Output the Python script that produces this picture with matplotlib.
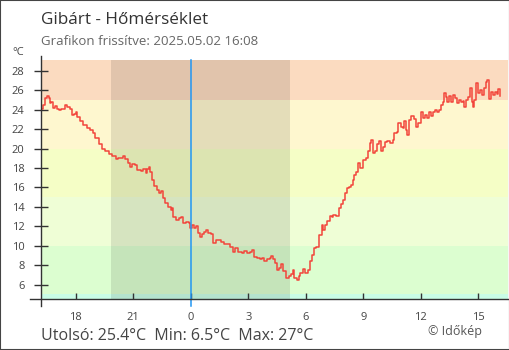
import matplotlib
matplotlib.use("Agg")
import matplotlib.pyplot as plt
from matplotlib.lines import Line2D
from matplotlib.patches import Rectangle

plt.rcParams['font.family'] = ['Open Sans', 'DejaVu Sans']

# hours relative to midnight, temperature in °C
hours = [-7.82, -7.79, -7.72, -7.62, -7.51, -7.41, -7.34, -7.27, -7.20, -7.09,
         -6.99, -6.89, -6.75, -6.65, -6.54, -6.44, -6.30, -6.19, -6.09, -5.98,
         -5.92, -5.77, -5.60, -5.43, -5.25, -5.11, -4.98, -4.80, -4.63, -4.45,
         -4.28, -4.11, -3.88, -3.78, -3.55, -3.43, -3.26, -3.17, -3.06, -2.91,
         -2.79, -2.61, -2.47, -2.33, -2.26, -2.19, -2.12, -2.03, -1.91, -1.77,
         -1.64, -1.56, -1.46, -1.34, -1.17, -1.04, -0.99, -0.91, -0.77, -0.63,
         -0.52, -0.39, -0.25, -0.10, -0.04, 0.08, 0.19, 0.26, 0.37, 0.47,
         0.57, 0.68, 0.78, 0.92, 1.06, 1.16, 1.30, 1.44, 1.58, 1.75,
         1.93, 2.07, 2.21, 2.31, 2.48, 2.66, 2.80, 2.94, 3.08, 3.18,
         3.29, 3.44, 3.62, 3.72, 3.82, 3.96, 4.14, 4.20, 4.31, 4.41,
         4.52, 4.62, 4.73, 4.83, 4.97, 5.11, 5.22, 5.32, 5.39, 5.53,
         5.63, 5.70, 5.84, 5.96, 6.13, 6.22, 6.31, 6.43, 6.54, 6.66,
         6.71, 6.83, 6.92, 7.02, 7.13, 7.27, 7.37, 7.44, 7.58, 7.72,
         7.82, 7.93, 8.03, 8.14, 8.24, 8.35, 8.45, 8.52, 8.62, 8.74,
         8.83, 8.94, 9.00, 9.14, 9.25, 9.35, 9.42, 9.53, 9.63, 9.70,
         9.81, 9.91, 10.02, 10.14, 10.26, 10.40, 10.54, 10.61, 10.75, 10.83,
         10.95, 11.06, 11.13, 11.23, 11.30, 11.40, 11.51, 11.65, 11.75, 11.87,
         12.00, 12.10, 12.21, 12.31, 12.42, 12.52, 12.62, 12.74, 12.86, 12.97,
         13.04, 13.15, 13.21, 13.32, 13.39, 13.49, 13.59, 13.67, 13.79, 13.88,
         13.98, 14.08, 14.19, 14.26, 14.36, 14.48, 14.57, 14.66, 14.71, 14.78,
         14.88, 14.99, 15.09, 15.20, 15.30, 15.41, 15.47, 15.55, 15.65, 15.76,
         15.86, 15.96, 16.05, 16.13]
temps = [25.6, 24.1, 24.5, 25.2, 25.4, 25.2, 24.7, 24.8, 24.2, 24.4,
         24.1, 24.0, 24.1, 24.1, 24.5, 24.3, 24.1, 23.4, 23.5, 23.8,
         23.2, 22.8, 22.4, 22.1, 21.9, 21.6, 21.1, 20.5, 20.0, 19.7,
         19.4, 19.2, 18.9, 19.0, 19.2, 18.9, 18.55, 18.1, 18.4, 18.3,
         17.8, 17.7, 17.9, 17.5, 17.9, 18.1, 17.6, 16.8, 16.1, 15.7,
         15.4, 15.6, 14.9, 14.4, 14.0, 13.7, 13.9, 13.0, 12.7, 12.85,
         13.0, 12.3, 12.4, 12.3, 11.8, 12.15, 11.8, 12.0, 11.3, 10.9,
         11.2, 11.4, 11.6, 11.3, 11.2, 10.3, 10.55, 10.6, 10.35, 10.2,
         10.2, 9.9, 9.4, 9.75, 9.4, 9.3, 9.5, 9.25, 9.4, 9.6,
         8.8, 8.7, 8.6, 8.75, 8.4, 8.6, 8.7, 8.95, 8.6, 8.2,
         7.5, 7.7, 8.15, 7.45, 6.7, 6.85, 7.1, 7.5, 6.7, 6.5,
         6.9, 7.2, 7.6, 7.2, 7.5, 8.4, 9.1, 9.75, 9.9, 9.9,
         11.1, 12.15, 11.6, 12.15, 12.6, 13.1, 12.95, 13.2, 13.1, 13.9,
         14.3, 14.7, 15.4, 15.9, 16.0, 16.3, 16.8, 17.3, 17.6, 18.5,
         18.0, 18.0, 18.8, 19.0, 19.7, 20.55, 20.9, 19.5, 19.7, 20.5,
         20.8, 19.7, 20.2, 20.7, 20.8, 20.55, 20.9, 21.6, 21.7, 22.6,
         22.25, 22.1, 22.8, 21.9, 21.4, 22.9, 23.3, 23.0, 22.25, 22.6,
         23.8, 23.1, 23.45, 23.1, 23.8, 23.3, 23.8, 24.0, 23.8, 24.0,
         24.5, 24.8, 25.7, 25.3, 24.8, 25.4, 24.8, 25.5, 25.2, 24.65,
         25.0, 24.8, 24.9, 24.3, 25.0, 25.3, 26.2, 24.8, 24.3, 25.0,
         26.7, 25.7, 26.0, 25.5, 26.2, 26.8, 27.0, 25.1, 25.8, 25.5,
         25.8, 25.65, 26.1, 25.4]

band_edges = [-10, 5, 10, 15, 20, 25, 40]
band_colors = ['#c9fde6', '#dcfed0', '#effed6', '#f5fec6', '#fef7cf', '#fbdbc0']
night = (-4.16, 5.18)
xticks = [-6, -3, 0, 3, 6, 9, 12, 15]
xticklabels = ['18', '21', '0', '3', '6', '9', '12', '15']
yticks = [6, 8, 10, 12, 14, 16, 18, 20, 22, 24, 26, 28]

W, H = 510, 350
fig = plt.figure(figsize=(W / 100, H / 100), dpi=100)
x0, x1, y0, y1 = 40.7, 508, 299.3, 60
ax = fig.add_axes([x0 / W, 1 - y0 / H, (x1 - x0) / W, (y0 - y1) / H])
ax.set_xlim(-7.825, 16.55)
ax.set_ylim(4.5, 29.1)

for lo, hi, c in zip(band_edges[:-1], band_edges[1:], band_colors):
    ax.axhspan(lo, hi, color=c, lw=0, zorder=0)
ax.axvspan(night[0], night[1], color='black', alpha=0.1, lw=0, zorder=1)

ax.plot(hours, temps, color='#f2453b', lw=1.1, drawstyle='steps-post', zorder=3)
ax.axvline(0, ymin=-0.028, ymax=1, color='#2196f3', lw=1.1, clip_on=False, zorder=4)

for s in ax.spines.values():
    s.set_visible(False)
# axis lines sticking out past the plot corner
ax.add_line(Line2D([-0.0, 0.0], [-0.03, 1.018], transform=ax.transAxes,
                   color='#333333', lw=1, clip_on=False, zorder=5))
ax.add_line(Line2D([-0.023, 1.0], [0, 0], transform=ax.transAxes,
                   color='#333333', lw=1, clip_on=False, zorder=5))

ax.set_yticks(yticks)
ax.set_xticks(xticks)
ax.set_xticklabels(xticklabels)
ax.tick_params(axis='y', direction='inout', length=9.5, width=1, color='#333333',
               labelsize=8, labelcolor='#444444', pad=7)
ax.tick_params(axis='x', direction='in', length=4.5, width=1, color='#333333',
               labelsize=8, labelcolor='#444444', pad=9)

fig.text(40.7 / W, 1 - 24 / H, 'Gibárt - Hőmérséklet', fontsize=12.3, color='#333333')
fig.text(40.7 / W, 1 - 45 / H, 'Grafikon frissítve: 2025.05.02 16:08', fontsize=9.5,
         color='#666666')
fig.text(12 / W, 1 - 55 / H, '°C', fontsize=8, color='#444444')
fig.text(40.7 / W, 1 - 339.5 / H, 'Utolsó: 25.4°C  Min: 6.5°C  Max: 27°C', fontsize=11.5,
         color='#444444')
fig.text(482 / W, 1 - 335 / H, '© Időkép', fontsize=9, color='#555555', ha='right')

fig.add_artist(Rectangle((0, 0), 1, 1, transform=fig.transFigure, fill=False,
                         edgecolor='#444444', lw=1.5))

fig.savefig('out.png', dpi=100)
